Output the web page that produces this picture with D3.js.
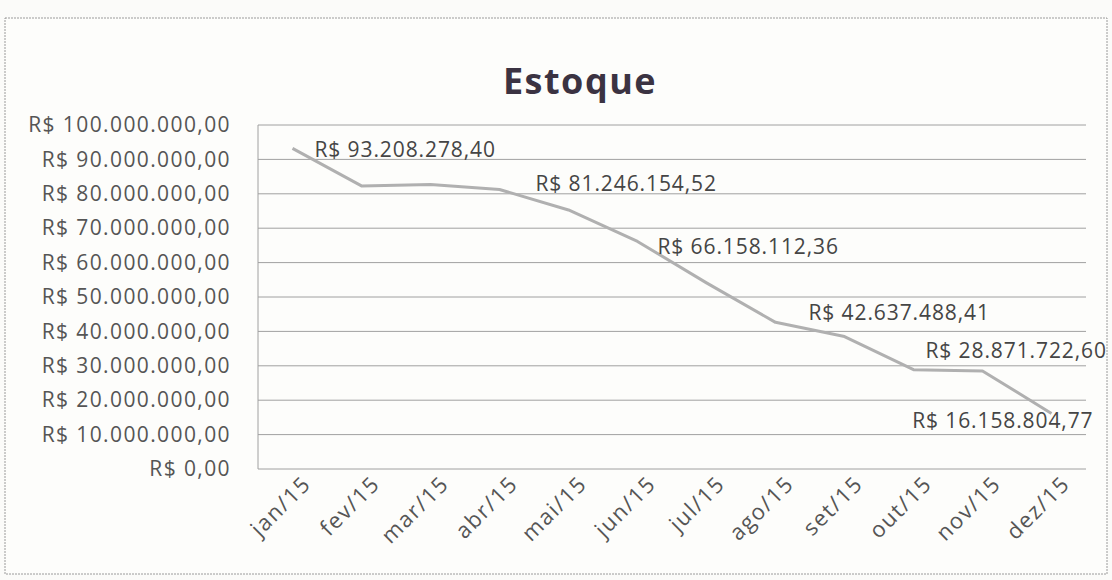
<!DOCTYPE html>
<html>
<head>
<meta charset="utf-8">
<script src="https://cdn.jsdelivr.net/npm/d3@7"></script>
<style>
  body { margin: 0; background: #fbfbf9; }
  text { font-family: "Open Sans", sans-serif; }
</style>
</head>
<body>
<div id="content"></div>
<script>
// Estoque mensal 2015
var months = ["jan/15", "fev/15", "mar/15", "abr/15", "mai/15", "jun/15",
  "jul/15", "ago/15", "set/15", "out/15", "nov/15", "dez/15"];

var stock = [93208278.40, 82300000, 82700000, 81246154.52, 75300000, 66158112.36,
  54100000, 42637488.41, 38500000, 28871722.60, 28500000, 16158804.77];

// months that carry a data label
var labelled = [0, 3, 5, 7, 9, 11];

var yTicks = [0, 10e6, 20e6, 30e6, 40e6, 50e6, 60e6, 70e6, 80e6, 90e6, 100e6];

var W = 1112, H = 580;
var margin = {top: 125, right: 26, bottom: 111, left: 258};

var brl = d3.formatLocale({decimal: ",", thousands: ".", grouping: [3], currency: ["R$ ", ""]});
var money = brl.format("$,.2f");

var svg = d3.select("#content").append("svg")
  .attr("width", W).attr("height", H);

// chart border
svg.append("rect")
  .attr("x", 5).attr("y", 18).attr("width", W - 10).attr("height", H - 24)
  .attr("fill", "#fdfdfb").attr("stroke", "#9a9a9a")
  .attr("stroke-dasharray", "2,1");

svg.append("text")
  .attr("x", 580).attr("y", 94)
  .attr("text-anchor", "middle")
  .style("font-size", "36px").style("font-weight", "bold")
  .style("letter-spacing", "1.5px")
  .attr("fill", "#3b3342")
  .text("Estoque");

var x = d3.scalePoint().domain(months)
  .range([margin.left, W - margin.right]).padding(0.5);
var y = d3.scaleLinear().domain([0, 100e6])
  .range([H - margin.bottom, margin.top]);

// gridlines
svg.append("g").selectAll("line")
  .data(yTicks)
  .enter().append("line")
  .attr("x1", margin.left).attr("x2", W - margin.right)
  .attr("y1", function(d) { return y(d); })
  .attr("y2", function(d) { return y(d); })
  .attr("stroke", "#a0a0a0").attr("stroke-width", 1);

// left edge of plot area
svg.append("line")
  .attr("x1", margin.left).attr("x2", margin.left)
  .attr("y1", y(100e6)).attr("y2", y(0))
  .attr("stroke", "#a0a0a0");

var yAxis = svg.append("g")
  .attr("transform", "translate(" + margin.left + ",0)")
  .call(d3.axisLeft(y).tickValues(yTicks).tickFormat(money).tickSize(0).tickPadding(27));
yAxis.select(".domain").remove();
yAxis.selectAll("text")
  .style("font-size", "21px").style("letter-spacing", "1.4px")
  .attr("fill", "#555");

var xAxis = svg.append("g")
  .attr("transform", "translate(0," + (H - margin.bottom) + ")")
  .call(d3.axisBottom(x).tickSize(0));
xAxis.select(".domain").remove();
xAxis.selectAll("text")
  .style("font-size", "22px").style("letter-spacing", "1.6px")
  .attr("fill", "#555")
  .style("text-anchor", "end")
  .attr("dx", "0.1em").attr("dy", "1.0em")
  .attr("transform", "rotate(-45)");

var line = d3.line()
  .x(function(d, i) { return x(months[i]); })
  .y(function(d) { return y(d); });

svg.append("path")
  .datum(stock)
  .attr("d", line)
  .attr("fill", "none")
  .attr("stroke", "#b0b0b0")
  .attr("stroke-width", 3)
  .attr("stroke-linejoin", "round");

// label placement relative to its point
var nudge = {0: [22, 1], 3: [36, -6], 5: [20, 5], 7: [33, -10], 9: [12, -19], 11: [42, 7]};

svg.append("g").selectAll("text")
  .data(labelled)
  .enter().append("text")
  .attr("x", function(i) { return x(months[i]) + nudge[i][0]; })
  .attr("y", function(i) { return y(stock[i]) + nudge[i][1]; })
  .attr("dy", "0.35em")
  .attr("text-anchor", function(i) { return i == 11 ? "end" : "start"; })
  .style("font-size", "21px").style("letter-spacing", "0.9px")
  .attr("fill", "#454545")
  .text(function(i) { return money(stock[i]); });
</script>
</body>
</html>
